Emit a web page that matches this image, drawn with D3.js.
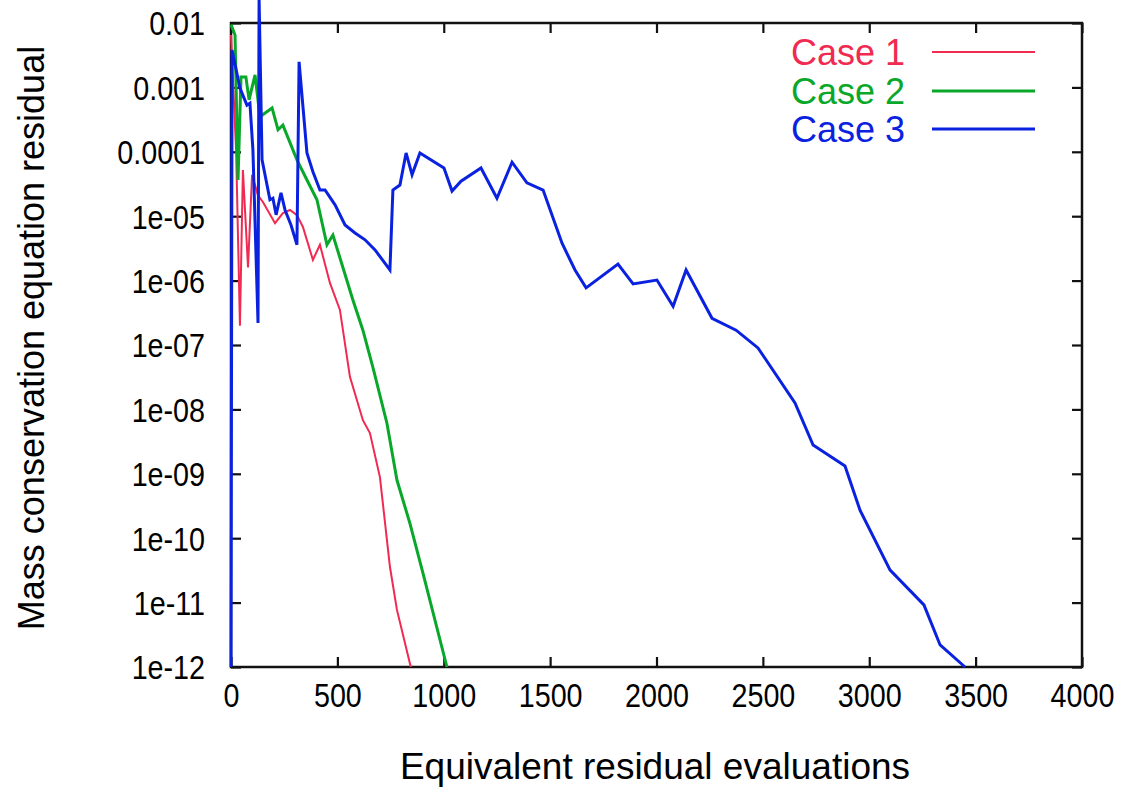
<!DOCTYPE html>
<html>
<head>
<meta charset="utf-8">
<script src="https://cdn.jsdelivr.net/npm/d3@7"></script>
<style>
  html, body { margin: 0; padding: 0; background: #fff; }
  svg text { font-family: "Liberation Sans", Arial, Helvetica, sans-serif; }
</style>
</head>
<body>
<svg id="chart" width="1133" height="788"></svg>
<script>
// Residual histories: [equivalent residual evaluations, residual]
const case1 = [
  [0, 6.5e-3], [24, 1.07e-4], [42, 2.0e-7], [56, 5.2e-5], [80, 1.6e-6],
  [99, 4.4e-5], [127, 2.1e-5], [150, 1.66e-5], [207, 7.8e-6], [244, 1.12e-5],
  [277, 1.25e-5], [310, 1.04e-5], [338, 6.8e-6], [385, 2.1e-6], [418, 3.6e-6],
  [465, 9.2e-7], [512, 3.5e-7], [559, 3.2e-8], [620, 6.8e-9], [653, 4.3e-9],
  [700, 8.9e-10], [747, 3.6e-11], [780, 7.7e-12], [845, 1e-12]
];
const case2 = [
  [0, 9.5e-3], [19, 6.5e-3], [33, 3.65e-5], [47, 1.45e-3], [70, 1.45e-3],
  [85, 6.4e-4], [113, 1.56e-3], [136, 3.5e-4], [193, 4.8e-4], [221, 2.2e-4],
  [244, 2.6e-4], [310, 7.5e-5], [357, 3.65e-5], [404, 1.8e-5], [451, 3.6e-6],
  [479, 5.1e-6], [526, 1.6e-6], [573, 5.0e-7], [620, 1.7e-7], [667, 4.5e-8],
  [733, 6.1e-9], [780, 8.0e-10], [841, 1.7e-10], [902, 2.9e-11], [1015, 1e-12]
];
const case3 = [
  [0, 1e-12], [5, 3.8e-3], [42, 9.8e-4], [75, 5.3e-4], [89, 5.7e-4],
  [103, 1.07e-4], [127, 2.2e-7], [132, 2.4e-2], [146, 7.5e-5], [183, 1.8e-5],
  [197, 1.9e-5], [212, 1.05e-5], [235, 2.3e-5], [254, 1.25e-5], [282, 7.3e-6],
  [310, 3.6e-6], [320, 2.5e-3], [357, 9.6e-5], [385, 4.9e-5], [418, 2.55e-5],
  [442, 2.55e-5], [489, 1.5e-5], [536, 7.3e-6], [583, 5.5e-6], [630, 4.3e-6],
  [677, 3.0e-6], [747, 1.46e-6], [761, 2.55e-5], [794, 3.05e-5], [823, 9.6e-5],
  [851, 4.4e-5], [888, 9.6e-5], [1001, 5.6e-5], [1039, 2.46e-5], [1081, 3.5e-5],
  [1175, 5.6e-5], [1250, 1.9e-5], [1321, 6.9e-5], [1391, 3.3e-5], [1467, 2.55e-5],
  [1556, 3.8e-6], [1617, 1.46e-6], [1669, 7.7e-7], [1819, 1.8e-6], [1890, 8.9e-7],
  [2002, 1.02e-6], [2078, 4.0e-7], [2139, 1.46e-6], [2261, 2.6e-7], [2374, 1.7e-7],
  [2477, 9.0e-8], [2651, 1.26e-8], [2736, 2.8e-9], [2886, 1.32e-9], [2957, 2.7e-10],
  [3098, 3.2e-11], [3257, 9.2e-12], [3333, 2.2e-12], [3450, 1e-12]
];

const seriesNames = ["Case 1", "Case 2", "Case 3"];
const seriesColors = ["#f02a50", "#0aa82a", "#0a22e0"];
const seriesWidths = [2, 3, 3];

const xTicks = [0, 500, 1000, 1500, 2000, 2500, 3000, 3500, 4000];
const yTicks = [1e-2, 1e-3, 1e-4, 1e-5, 1e-6, 1e-7, 1e-8, 1e-9, 1e-10, 1e-11, 1e-12];
const yTickLabels = ["0.01", "0.001", "0.0001", "1e-05", "1e-06", "1e-07",
                     "1e-08", "1e-09", "1e-10", "1e-11", "1e-12"];

const margin = { left: 231, right: 1082, top: 23, bottom: 667 };
const svg = d3.select("#chart");

const x = d3.scaleLinear().domain([0, 4000]).range([margin.left, margin.right]);
const y = d3.scaleLog().domain([1e-12, 1e-2]).range([margin.bottom, margin.top]);

const tickLen = 10;
const axisColor = "#111";
const tickFont = 33;
const squeeze = 0.87;   // narrow, tall tick lettering

// Bottom axis with labels
const xAxis = svg.append("g")
  .attr("transform", `translate(0,${margin.bottom})`)
  .call(d3.axisBottom(x).tickValues(xTicks).tickFormat(d3.format("d"))
        .tickSizeInner(-tickLen).tickSizeOuter(0));
// Top mirrored ticks
const xAxisTop = svg.append("g")
  .attr("transform", `translate(0,${margin.top})`)
  .call(d3.axisTop(x).tickValues(xTicks).tickFormat("")
        .tickSizeInner(-tickLen).tickSizeOuter(0));
// Left axis with labels
const yAxis = svg.append("g")
  .attr("transform", `translate(${margin.left},0)`)
  .call(d3.axisLeft(y).tickValues(yTicks)
        .tickFormat((d, i) => yTickLabels[i])
        .tickSizeInner(-tickLen).tickSizeOuter(0));
// Right mirrored ticks
const yAxisRight = svg.append("g")
  .attr("transform", `translate(${margin.right},0)`)
  .call(d3.axisRight(y).tickValues(yTicks).tickFormat("")
        .tickSizeInner(-tickLen).tickSizeOuter(0));

[xAxis, xAxisTop, yAxis, yAxisRight].forEach(g => {
  g.select(".domain").remove();
  g.selectAll(".tick line").attr("stroke", axisColor).attr("stroke-width", 2.2);
  g.selectAll(".tick text").attr("fill", "#000").attr("font-size", tickFont)
    .attr("font-family", "'Liberation Sans', Arial, sans-serif");
});
xAxis.selectAll(".tick text")
  .attr("x", 0).attr("y", 0).attr("dy", "0")
  .attr("transform", `translate(0,40) scale(${squeeze},1)`);
yAxis.selectAll(".tick text")
  .attr("x", 0).attr("dy", "0.36em")
  .attr("transform", `translate(-26,0) scale(${squeeze},1)`);

// Frame
svg.append("rect")
  .attr("x", margin.left).attr("y", margin.top)
  .attr("width", margin.right - margin.left).attr("height", margin.bottom - margin.top)
  .attr("fill", "none").attr("stroke", axisColor).attr("stroke-width", 2.5);

// Curves
const line = d3.line().x(d => x(d[0])).y(d => y(d[1]));
[case1, case2, case3].forEach((data, i) => {
  svg.append("path")
    .datum(data)
    .attr("d", line)
    .attr("fill", "none")
    .attr("stroke", seriesColors[i])
    .attr("stroke-width", seriesWidths[i])
    .attr("stroke-linejoin", "miter");
});

// Legend
const legendY = [52, 91, 129];
seriesNames.forEach((name, i) => {
  svg.append("text")
    .attr("x", 905).attr("y", legendY[i])
    .attr("dy", "0.36em")
    .attr("text-anchor", "end")
    .attr("font-size", 36)
    .attr("fill", seriesColors[i])
    .text(name);
  svg.append("line")
    .attr("x1", 932).attr("x2", 1035)
    .attr("y1", legendY[i]).attr("y2", legendY[i])
    .attr("stroke", seriesColors[i])
    .attr("stroke-width", seriesWidths[i]);
});

// Axis titles
svg.append("text")
  .attr("x", 655).attr("y", 779)
  .attr("text-anchor", "middle")
  .attr("font-size", 37)
  .attr("fill", "#000")
  .text("Equivalent residual evaluations");

svg.append("text")
  .attr("transform", "translate(44,338) rotate(-90)")
  .attr("text-anchor", "middle")
  .attr("font-size", 36)
  .attr("fill", "#000")
  .text("Mass conservation equation residual");
</script>
</body>
</html>
